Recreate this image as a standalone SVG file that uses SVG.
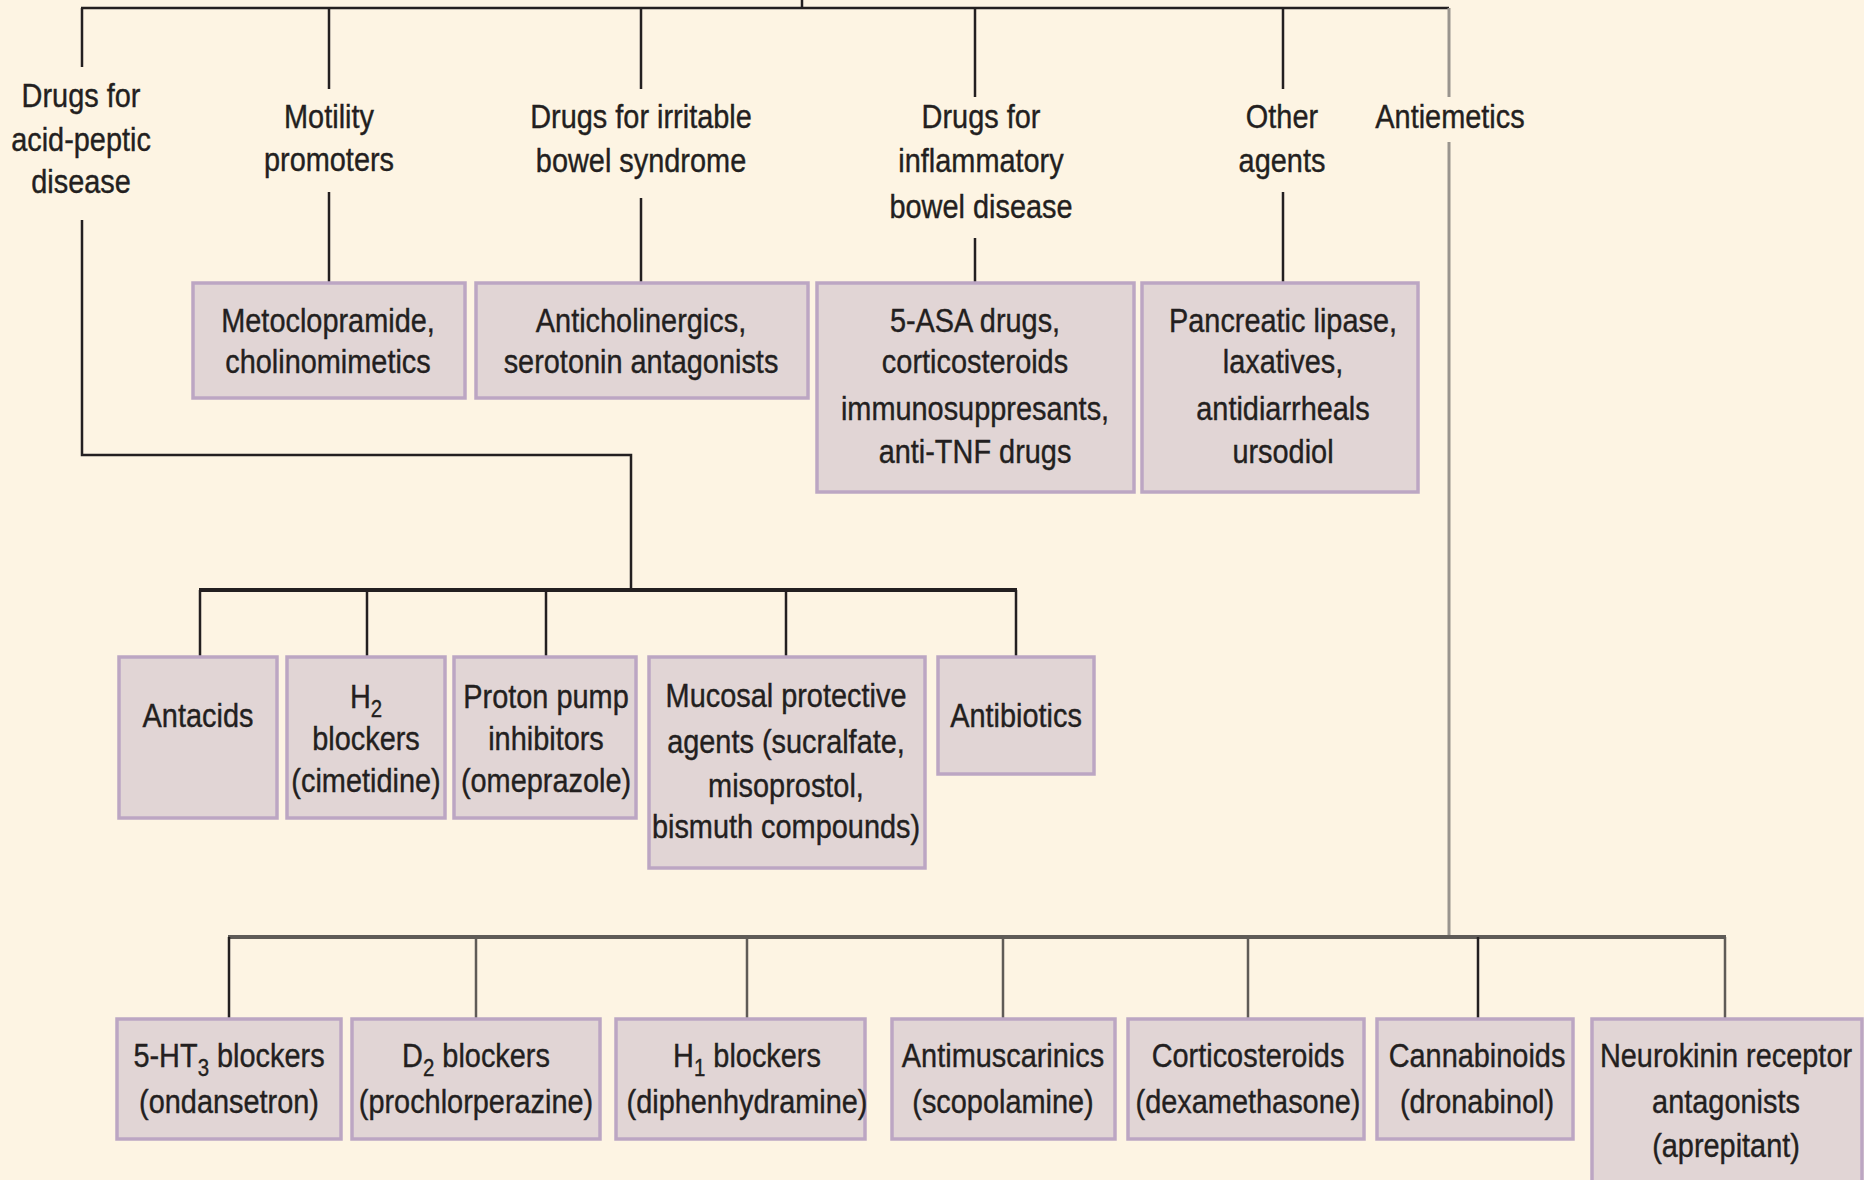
<svg xmlns="http://www.w3.org/2000/svg" width="1864" height="1180" viewBox="0 0 1864 1180">
<style>
.bg{fill:#FDF4E3}
.box{fill:#E1D5D5;stroke:#BCA6C3;stroke-width:3.5}
text{font-family:"Liberation Sans",Arial,sans-serif;font-size:34px;fill:#231F20;text-anchor:middle;stroke:#231F20;stroke-width:0.4}
.sub{font-size:24px}
.dk{stroke:#231F20;stroke-width:2.5;fill:none}
.dkb{stroke:#231F20;stroke-width:4;fill:none}
.gr{stroke:#99948E;stroke-width:3;fill:none}
.gd{stroke:#5F5B57;stroke-width:2.5;fill:none}
.gdb{stroke:#5F5B57;stroke-width:4;fill:none}
</style>
<rect class="bg" x="0" y="0" width="1864" height="1180"/>
<g id="connectors">
<line class="dk" x1="802" y1="0" x2="802" y2="8"/>
<line class="dk" x1="81" y1="8" x2="1449" y2="8"/>
<line class="dk" x1="82" y1="8" x2="82" y2="67"/>
<polyline class="dk" points="82,220 82,455 631,455 631,590"/>
<line class="dk" x1="329" y1="8" x2="329" y2="89"/>
<line class="dk" x1="329" y1="192" x2="329" y2="283"/>
<line class="dk" x1="641" y1="8" x2="641" y2="89"/>
<line class="dk" x1="641" y1="198" x2="641" y2="283"/>
<line class="dk" x1="975" y1="8" x2="975" y2="97"/>
<line class="dk" x1="975" y1="238" x2="975" y2="283"/>
<line class="dk" x1="1283" y1="8" x2="1283" y2="89"/>
<line class="dk" x1="1283" y1="192" x2="1283" y2="283"/>
<line class="gr" x1="1449" y1="8" x2="1449" y2="97"/>
<line class="gr" x1="1449" y1="142" x2="1449" y2="937"/>
<line class="dkb" x1="199" y1="590" x2="1017" y2="590"/>
<line class="dk" x1="200" y1="590" x2="200" y2="657"/>
<line class="dk" x1="367" y1="590" x2="367" y2="657"/>
<line class="dk" x1="546" y1="590" x2="546" y2="657"/>
<line class="dk" x1="786" y1="590" x2="786" y2="657"/>
<line class="dk" x1="1016" y1="590" x2="1016" y2="657"/>
<line class="gdb" x1="228" y1="937" x2="1726" y2="937"/>
<line class="dk" x1="229" y1="937" x2="229" y2="1019"/>
<line class="gd" x1="476" y1="937" x2="476" y2="1019"/>
<line class="gd" x1="747" y1="937" x2="747" y2="1019"/>
<line class="gd" x1="1003" y1="937" x2="1003" y2="1019"/>
<line class="gd" x1="1248" y1="937" x2="1248" y2="1019"/>
<line class="dk" x1="1478" y1="937" x2="1478" y2="1019"/>
<line class="gd" x1="1725" y1="937" x2="1725" y2="1019"/>
</g>
<g id="label-acid"><g transform="translate(81,0) scale(0.85,1)"><text x="0" y="107">Drugs for</text><text x="0" y="151">acid-peptic</text><text x="0" y="193">disease</text></g></g>
<g id="label-motility"><g transform="translate(329,0) scale(0.85,1)"><text x="0" y="128">Motility</text><text x="0" y="171">promoters</text></g></g>
<g id="label-ibs"><g transform="translate(641,0) scale(0.85,1)"><text x="0" y="128">Drugs for irritable</text><text x="0" y="172">bowel syndrome</text></g></g>
<g id="label-ibd"><g transform="translate(981,0) scale(0.85,1)"><text x="0" y="128">Drugs for</text><text x="0" y="172">inflammatory</text><text x="0" y="218">bowel disease</text></g></g>
<g id="label-other"><g transform="translate(1282,0) scale(0.85,1)"><text x="0" y="128">Other</text><text x="0" y="172">agents</text></g></g>
<g id="label-antiemetics"><g transform="translate(1450,0) scale(0.85,1)"><text x="0" y="128">Antiemetics</text></g></g>
<g id="box-metoclopramide"><rect class="box" x="193" y="283" width="272" height="115"/><g transform="translate(328,0) scale(0.85,1)"><text x="0" y="332">Metoclopramide,</text><text x="0" y="373">cholinomimetics</text></g></g>
<g id="box-anticholinergics"><rect class="box" x="476" y="283" width="332" height="115"/><g transform="translate(641,0) scale(0.85,1)"><text x="0" y="332">Anticholinergics,</text><text x="0" y="373">serotonin antagonists</text></g></g>
<g id="box-5asa"><rect class="box" x="817" y="283" width="317" height="209"/><g transform="translate(975,0) scale(0.85,1)"><text x="0" y="332">5-ASA drugs,</text><text x="0" y="373">corticosteroids</text><text x="0" y="420">immunosuppresants,</text><text x="0" y="463">anti-TNF drugs</text></g></g>
<g id="box-pancreatic"><rect class="box" x="1142" y="283" width="276" height="209"/><g transform="translate(1283,0) scale(0.85,1)"><text x="0" y="332">Pancreatic lipase,</text><text x="0" y="373">laxatives,</text><text x="0" y="420">antidiarrheals</text><text x="0" y="463">ursodiol</text></g></g>
<g id="box-antacids"><rect class="box" x="119" y="657" width="158" height="161"/><g transform="translate(198,0) scale(0.85,1)"><text x="0" y="727">Antacids</text></g></g>
<g id="box-h2"><rect class="box" x="287" y="657" width="158" height="161"/><g transform="translate(366,0) scale(0.85,1)"><text x="0" y="708">H<tspan class="sub" dy="9">2</tspan></text><text x="0" y="750">blockers</text><text x="0" y="792">(cimetidine)</text></g></g>
<g id="box-ppi"><rect class="box" x="454" y="657" width="182" height="161"/><g transform="translate(546,0) scale(0.85,1)"><text x="0" y="708">Proton pump</text><text x="0" y="750">inhibitors</text><text x="0" y="792">(omeprazole)</text></g></g>
<g id="box-mucosal"><rect class="box" x="649" y="657" width="276" height="211"/><g transform="translate(786,0) scale(0.85,1)"><text x="0" y="707">Mucosal protective</text><text x="0" y="753">agents (sucralfate,</text><text x="0" y="797">misoprostol,</text><text x="0" y="838">bismuth compounds)</text></g></g>
<g id="box-antibiotics"><rect class="box" x="938" y="657" width="156" height="117"/><g transform="translate(1016,0) scale(0.85,1)"><text x="0" y="727">Antibiotics</text></g></g>
<g id="box-5ht3"><rect class="box" x="117" y="1019" width="224" height="120"/><g transform="translate(229,0) scale(0.85,1)"><text x="0" y="1067">5-HT<tspan class="sub" dy="9">3</tspan><tspan dy="-9"> blockers</tspan></text><text x="0" y="1113">(ondansetron)</text></g></g>
<g id="box-d2"><rect class="box" x="352" y="1019" width="248" height="120"/><g transform="translate(476,0) scale(0.85,1)"><text x="0" y="1067">D<tspan class="sub" dy="9">2</tspan><tspan dy="-9"> blockers</tspan></text><text x="0" y="1113">(prochlorperazine)</text></g></g>
<g id="box-h1"><rect class="box" x="616" y="1019" width="249" height="120"/><g transform="translate(747,0) scale(0.85,1)"><text x="0" y="1067">H<tspan class="sub" dy="9">1</tspan><tspan dy="-9"> blockers</tspan></text><text x="0" y="1113">(diphenhydramine)</text></g></g>
<g id="box-antimuscarinics"><rect class="box" x="892" y="1019" width="223" height="120"/><g transform="translate(1003,0) scale(0.85,1)"><text x="0" y="1067">Antimuscarinics</text><text x="0" y="1113">(scopolamine)</text></g></g>
<g id="box-corticosteroids"><rect class="box" x="1128" y="1019" width="236" height="120"/><g transform="translate(1248,0) scale(0.85,1)"><text x="0" y="1067">Corticosteroids</text><text x="0" y="1113">(dexamethasone)</text></g></g>
<g id="box-cannabinoids"><rect class="box" x="1377" y="1019" width="196" height="120"/><g transform="translate(1477,0) scale(0.85,1)"><text x="0" y="1067">Cannabinoids</text><text x="0" y="1113">(dronabinol)</text></g></g>
<g id="box-neurokinin"><rect class="box" x="1592" y="1019" width="270" height="170"/><g transform="translate(1726,0) scale(0.85,1)"><text x="0" y="1067">Neurokinin receptor</text><text x="0" y="1113">antagonists</text><text x="0" y="1157">(aprepitant)</text></g></g>
</svg>
